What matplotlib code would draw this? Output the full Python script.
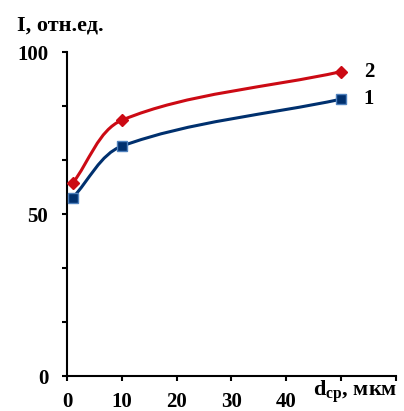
"""
Intensity vs mean particle size, two smoothed series
"""
import numpy as np
import matplotlib
matplotlib.use("Agg")
import matplotlib.pyplot as plt
from matplotlib.path import Path
from matplotlib.patches import PathPatch

# data
d_sizes = [1, 10, 50]
series_1 = [55, 71, 85.5]
series_2 = [59.5, 79, 94]
series_names = ["1", "2"]
x_tick_labels = ["0", "10", "20", "30", "40", "", ""]
y_tick_labels = ["0", "", "", "50", "", "", "100"]

plt.rcParams['font.family'] = ['Liberation Serif', 'DejaVu Serif']
plt.rcParams['font.weight'] = 'bold'
plt.rcParams['mathtext.fontset'] = 'custom'
plt.rcParams['mathtext.rm'] = 'Liberation Serif'
plt.rcParams['mathtext.bf'] = 'Liberation Serif:bold'


def smooth_path(ax, xs, ys):
    """Smoothed line in screen space: cubic Bezier segments with
    tangents weighted by neighbouring segment lengths, mapped back to data"""
    pts = ax.transData.transform(np.column_stack([xs, ys]).astype(float))
    n = len(pts)
    seg = [np.hypot(*(pts[i + 1] - pts[i])) for i in range(n - 1)]
    verts = [pts[0]]
    codes = [Path.MOVETO]
    for i in range(n - 1):
        if i > 0:
            w = seg[i] / (seg[i - 1] + seg[i])
            c1 = pts[i] + (pts[i + 1] - pts[i - 1]) * w / 3.0
        else:
            c1 = pts[i] + (pts[i + 1] - pts[i]) / 3.0
        if i + 2 < n:
            w = seg[i] / (seg[i] + seg[i + 1])
            c2 = pts[i + 1] - (pts[i + 2] - pts[i]) * w / 3.0
        else:
            c2 = pts[i + 1] - (pts[i + 1] - pts[i]) / 3.0
        verts += [c1, c2, pts[i + 1]]
        codes += [Path.CURVE4] * 3
    verts = ax.transData.inverted().transform(np.array(verts))
    return Path(verts, codes)


fig = plt.figure(figsize=(4.04, 4.11), dpi=100)
ax = fig.add_axes([0.166, 0.085, 0.814, 0.788])
ax.set_xlim(0, 60)
ax.set_ylim(0, 100)

styles = [
    dict(color='#00306E', marker='s', mfc='#00306E', mec='#4F81BD', ms=7),
    dict(color='#CC0A14', marker='D', mfc='#CC0A14', mec='#CC0A14', ms=6),
]

for vals, st in zip([series_1, series_2], styles):
    ax.add_patch(PathPatch(smooth_path(ax, d_sizes, vals), fill=False,
                           edgecolor=st['color'], lw=2.2, zorder=2))
    ax.plot(d_sizes, vals, ls='none', marker=st['marker'], mfc=st['mfc'],
            mec=st['mec'], ms=st['ms'], mew=1.0, zorder=3, clip_on=False)

# series labels to the right of the last points
for name, vals in zip(series_names, [series_1, series_2]):
    ax.annotate(name, (d_sizes[-1], vals[-1]), xytext=(20, 0),
                textcoords='offset points', fontsize=15, fontweight='bold',
                va='center', ha='center', annotation_clip=False)

ax.set_xticks(np.arange(0, 61, 10))
ax.set_xticklabels(x_tick_labels)
ax.set_yticks(np.linspace(0, 100, 7))
ax.set_yticklabels(y_tick_labels)

for s in ['top', 'right']:
    ax.spines[s].set_visible(False)
for s in ['left', 'bottom']:
    ax.spines[s].set_linewidth(1.5)

ax.tick_params(axis='both', direction='out', length=3.6, width=1.5,
               labelsize=15, colors='black')
ax.tick_params(axis='y', pad=10)
ax.tick_params(axis='x', pad=8)
for lbl in ax.get_xticklabels() + ax.get_yticklabels():
    lbl.set_fontweight('bold')

fig.text(0.042, 0.937, "I, отн.ед.", fontsize=16, fontweight='bold',
         ha='left', va='center')
fig.text(0.775, 0.012, r"$\mathbf{d}_{\mathbf{ср}}$, мкм", fontsize=16,
         fontweight='bold', ha='left', va='bottom')

fig.savefig("out.png", dpi=100)
